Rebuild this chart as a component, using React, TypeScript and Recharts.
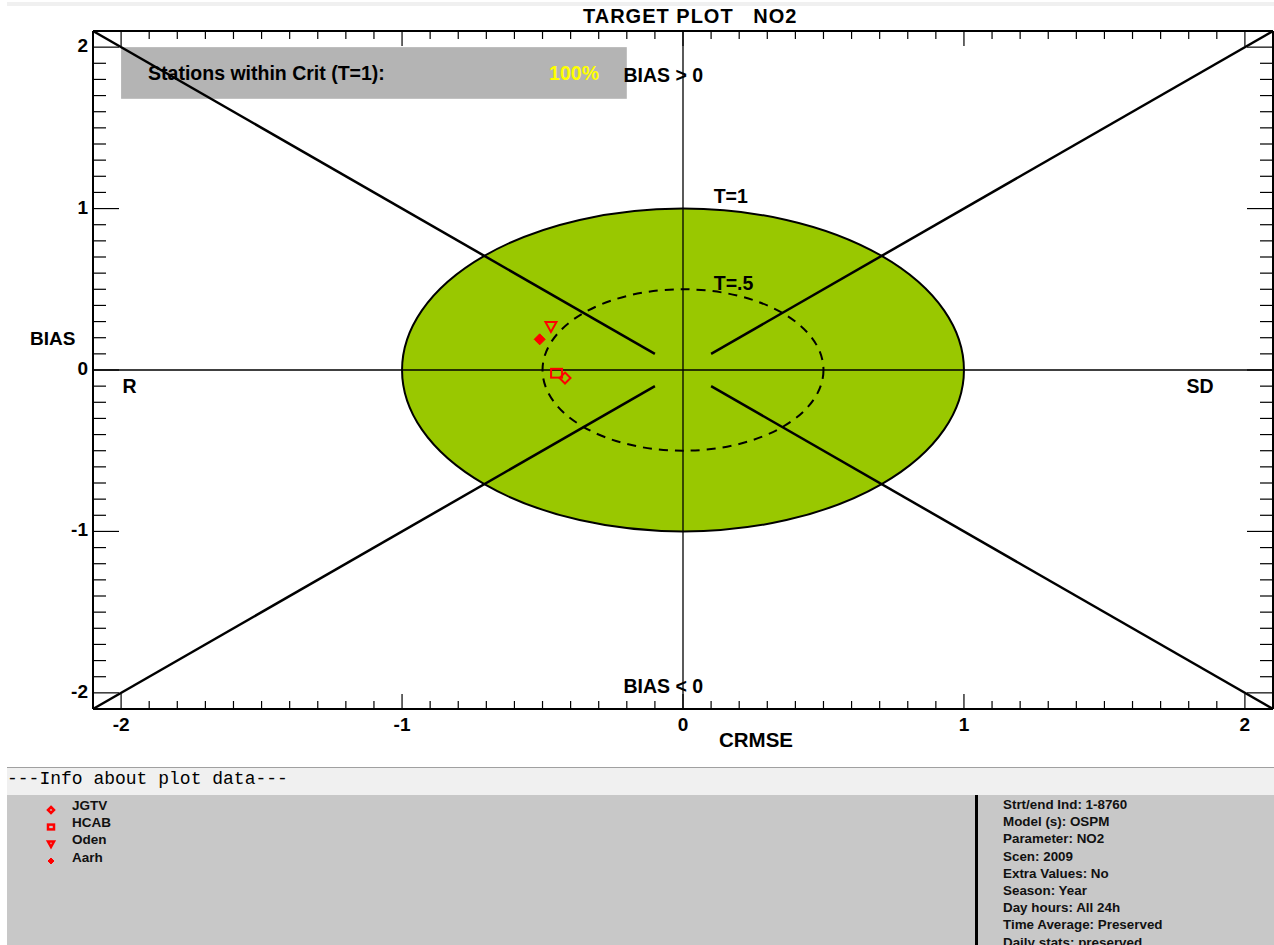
import React from "react";
import {
  ScatterChart,
  Scatter,
  XAxis,
  YAxis,
  ReferenceLine,
  ReferenceArea,
  ReferenceDot,
} from "recharts";

// stations and their target values
const stations = ["JGTV", "HCAB", "Oden", "Aarh"];
const crmse = [-0.42, -0.45, -0.47, -0.51];
const bias = [-0.05, -0.02, 0.27, 0.19];
const markerKinds = ["diamond", "square", "triangle", "filledDiamond"];

// axis ticks (every 0.1, labels on integers)
const axisTicks = Array.from({ length: 41 }, (_, i) => Math.round((i - 20)) / 10);

const infoLines = [
  "Strt/end Ind: 1-8760",
  "Model (s): OSPM",
  "Parameter: NO2",
  "Scen: 2009",
  "Extra Values: No",
  "Season: Year",
  "Day hours: All 24h",
  "Time Average: Preserved",
  "Daily stats: preserved",
];

const FONT = "'Liberation Sans', Arial, sans-serif";
const RED = "#ff0000";
const LABEL_SIZE = 19.5;

const isMajor = (v: number) => Math.abs(v - Math.round(v)) < 1e-6;

const Marker = ({ kind, cx, cy, s = 5.5, w = 2 }: { kind: string; cx: number; cy: number; s?: number; w?: number }) => {
  if (kind === "square")
    return <rect x={cx - s} y={cy - s * 0.8} width={s * 2} height={s * 1.6} fill="none" stroke={RED} strokeWidth={w} />;
  if (kind === "triangle")
    return (
      <polygon
        points={`${cx - s},${cy - s * 0.8} ${cx + s},${cy - s * 0.8} ${cx},${cy + s}`}
        fill="none"
        stroke={RED}
        strokeWidth={w}
      />
    );
  const pts = `${cx},${cy - s} ${cx + s},${cy} ${cx},${cy + s} ${cx - s},${cy}`;
  if (kind === "filledDiamond") return <polygon points={pts} fill={RED} stroke={RED} strokeWidth={1} />;
  return <polygon points={pts} fill="none" stroke={RED} strokeWidth={w} />;
};

const makeTick = (side: "bottom" | "top" | "left" | "right") => (props: any) => {
  const { x, y, payload } = props;
  const v = payload.value as number;
  const major = isMajor(v);
  if (side === "bottom" || side === "top") {
    const len = major ? 15 : 8;
    const dir = side === "bottom" ? -1 : 1;
    return (
      <g>
        <line x1={x} y1={y} x2={x} y2={y + dir * len} stroke="#000" strokeWidth={1.2} />
        {side === "bottom" && major && (
          <text x={x} y={y + 22} textAnchor="middle" fontFamily={FONT} fontWeight="bold" fontSize={19} fill="#000">
            {v}
          </text>
        )}
      </g>
    );
  }
  const len = major ? 26 : 13;
  const dir = side === "left" ? 1 : -1;
  return (
    <g>
      <line x1={x} y1={y} x2={x + dir * len} y2={y} stroke="#000" strokeWidth={1.2} />
      {side === "left" && major && (
        <text x={x - 5} y={y + 5} textAnchor="end" fontFamily={FONT} fontWeight="bold" fontSize={19} fill="#000">
          {v}
        </text>
      )}
    </g>
  );
};

const Ellipse = (dashed: boolean) => (props: any) => {
  const { x, y, width, height } = props;
  return (
    <ellipse
      cx={x + width / 2}
      cy={y + height / 2}
      rx={width / 2}
      ry={height / 2}
      fill={dashed ? "none" : "#99c800"}
      stroke="#000"
      strokeWidth={2}
      strokeDasharray={dashed ? "9 7" : undefined}
    />
  );
};

const textShape = (label: string) => (props: any) => (
  <text
    x={props.cx}
    y={props.cy}
    textAnchor="middle"
    dominantBaseline="central"
    fontFamily={FONT}
    fontWeight="bold"
    fontSize={LABEL_SIZE}
    fill="#000"
  >
    {label}
  </text>
);

const CritBox = (props: any) => {
  const { x, y, width, height } = props;
  return (
    <g>
      <rect x={x} y={y} width={width} height={height} fill="#b4b4b4" />
      <text x={x + 27} y={y + height / 2 + 7} fontFamily={FONT} fontWeight="bold" fontSize={LABEL_SIZE} fill="#000">
        Stations within Crit (T=1):
      </text>
      <text x={x + 428} y={y + height / 2 + 7} fontFamily={FONT} fontWeight="bold" fontSize={LABEL_SIZE} fill="#ffff00">
        100%
      </text>
    </g>
  );
};

const diagonals: Array<[number, number, number, number]> = [
  [-2.1, 2.1, -0.1, 0.1],
  [0.1, 0.1, 2.1, 2.1],
  [-2.1, -2.1, -0.1, -0.1],
  [0.1, -0.1, 2.1, -2.1],
];

export default function App() {
  const stationData = stations.map((name, i) => ({ name, crmse: crmse[i], bias: bias[i], kind: markerKinds[i] }));
  return (
    <div style={{ position: "absolute", left: 0, top: 0, width: 1274, height: 945, background: "#fff", overflow: "hidden" }}>
      <div style={{ position: "absolute", left: 7, top: 2, width: 1267, height: 4, background: "#f0f0f0" }} />
      <div
        style={{
          position: "absolute",
          left: 583,
          top: 5,
          fontFamily: FONT,
          fontWeight: "bold",
          fontSize: 20,
          letterSpacing: 1,
          whiteSpace: "pre",
        }}
      >
        TARGET PLOT   NO2
      </div>
      <div style={{ position: "absolute", left: 0, top: 0 }}>
        <ScatterChart width={1274} height={760} margin={{ top: 0, right: 0, bottom: 0, left: 0 }}>
          <XAxis
            xAxisId="b"
            type="number"
            dataKey="crmse"
            domain={[-2.1, 2.1]}
            ticks={axisTicks}
            interval={0}
            orientation="bottom"
            height={51}
            tickSize={0}
            tickMargin={0}
            tickLine={false}
            tick={makeTick("bottom")}
            axisLine={{ stroke: "#000", strokeWidth: 2 }}
            allowDataOverflow
          />
          <XAxis
            xAxisId="t"
            type="number"
            dataKey="crmse"
            domain={[-2.1, 2.1]}
            ticks={axisTicks}
            interval={0}
            orientation="top"
            height={31}
            tickSize={0}
            tickMargin={0}
            tickLine={false}
            tick={makeTick("top")}
            axisLine={{ stroke: "#000", strokeWidth: 2 }}
            allowDataOverflow
          />
          <YAxis
            yAxisId="l"
            type="number"
            dataKey="bias"
            domain={[-2.1, 2.1]}
            ticks={axisTicks}
            interval={0}
            orientation="left"
            width={93}
            tickSize={0}
            tickMargin={0}
            tickLine={false}
            tick={makeTick("left")}
            axisLine={{ stroke: "#000", strokeWidth: 2 }}
            allowDataOverflow
          />
          <YAxis
            yAxisId="r"
            type="number"
            dataKey="bias"
            domain={[-2.1, 2.1]}
            ticks={axisTicks}
            interval={0}
            orientation="right"
            width={1}
            tickSize={0}
            tickMargin={0}
            tickLine={false}
            tick={makeTick("right")}
            axisLine={{ stroke: "#000", strokeWidth: 2 }}
            allowDataOverflow
          />

          <ReferenceArea xAxisId="b" yAxisId="l" x1={-2} x2={-0.2} y1={1.68} y2={2.0} shape={CritBox} />
          <ReferenceArea xAxisId="b" yAxisId="l" x1={-1} x2={1} y1={-1} y2={1} shape={Ellipse(false)} />
          <ReferenceArea xAxisId="b" yAxisId="l" x1={-0.5} x2={0.5} y1={-0.5} y2={0.5} shape={Ellipse(true)} />

          <ReferenceLine xAxisId="b" yAxisId="l" x={0} stroke="#000" strokeWidth={1.3} />
          <ReferenceLine xAxisId="b" yAxisId="l" y={0} stroke="#000" strokeWidth={1.3} />
          {diagonals.map(([x1, y1, x2, y2], i) => (
            <ReferenceLine
              key={i}
              xAxisId="b"
              yAxisId="l"
              segment={[
                { x: x1, y: y1 },
                { x: x2, y: y2 },
              ]}
              stroke="#000"
              strokeWidth={2.5}
              ifOverflow="visible"
            />
          ))}

          <ReferenceDot xAxisId="b" yAxisId="l" x={-0.07} y={1.83} shape={textShape("BIAS > 0")} />
          <ReferenceDot xAxisId="b" yAxisId="l" x={-0.07} y={-1.96} shape={textShape("BIAS < 0")} />
          <ReferenceDot xAxisId="b" yAxisId="l" x={-1.97} y={-0.1} shape={textShape("R")} />
          <ReferenceDot xAxisId="b" yAxisId="l" x={1.84} y={-0.1} shape={textShape("SD")} />
          <ReferenceDot xAxisId="b" yAxisId="l" x={0.17} y={1.08} shape={textShape("T=1")} />
          <ReferenceDot xAxisId="b" yAxisId="l" x={0.18} y={0.54} shape={textShape("T=.5")} />

          {stationData.map((d) => (
            <Scatter
              key={d.name}
              name={d.name}
              xAxisId="b"
              yAxisId="l"
              data={[d]}
              isAnimationActive={false}
              shape={(p: any) => <Marker kind={d.kind} cx={p.cx} cy={p.cy} />}
            />
          ))}
          <Scatter xAxisId="t" yAxisId="r" data={stationData} isAnimationActive={false} shape={() => <g />} />
        </ScatterChart>
      </div>

      <div style={{ position: "absolute", left: 30, top: 328, fontFamily: FONT, fontWeight: "bold", fontSize: 19 }}>BIAS</div>
      <div style={{ position: "absolute", left: 719, top: 728, fontFamily: FONT, fontWeight: "bold", fontSize: 20.5 }}>CRMSE</div>

      {/* info panel */}
      <div style={{ position: "absolute", left: 7, top: 767, width: 1267, height: 1, background: "#a0a0a0" }} />
      <div style={{ position: "absolute", left: 7, top: 768, width: 1267, height: 27, background: "#f0f0f0" }} />
      <div
        style={{
          position: "absolute",
          left: 7,
          top: 769,
          fontFamily: "'Liberation Mono', 'DejaVu Sans Mono', monospace",
          fontSize: 18,
          whiteSpace: "pre",
        }}
      >
        ---Info about plot data---
      </div>
      <div style={{ position: "absolute", left: 7, top: 795, width: 1267, height: 150, background: "#c8c8c8" }} />
      <div style={{ position: "absolute", left: 975, top: 795, width: 3, height: 150, background: "#000" }} />
      {stations.map((name, i) => (
        <div key={name} style={{ position: "absolute", left: 44, top: 797 + i * 17.2, height: 17, display: "flex", alignItems: "center" }}>
          <svg width={14} height={14} style={{ marginTop: 8 }}>
            <Marker kind={markerKinds[i]} cx={7} cy={7} s={3} w={2.5} />
          </svg>
          <span style={{ marginLeft: 14, fontFamily: FONT, fontWeight: "bold", fontSize: 13.5, color: "#111" }}>{name}</span>
        </div>
      ))}
      {infoLines.map((line, i) => (
        <div
          key={line}
          style={{
            position: "absolute",
            left: 1003,
            top: 797 + i * 17.2,
            fontFamily: FONT,
            fontWeight: "bold",
            fontSize: 13.4,
            color: "#111",
            whiteSpace: "pre",
          }}
        >
          {line}
        </div>
      ))}
    </div>
  );
}
